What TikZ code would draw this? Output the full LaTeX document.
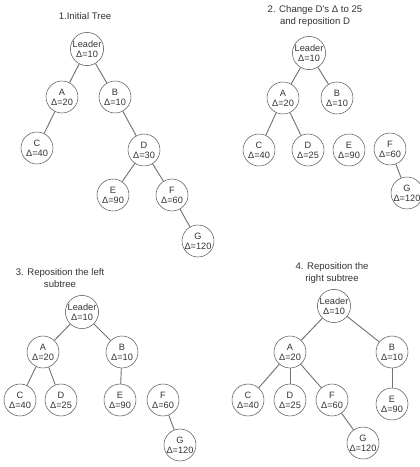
\documentclass[tikz,border=0pt]{standalone}
\usepackage{fontspec}
\setmainfont{Liberation Sans}
\usetikzlibrary{positioning}
\tikzset{
    treenode/.style={draw=black!65, circle, minimum size=24pt, inner sep=0pt, align=center,
        font=\fontsize{6.9}{7.6}\selectfont, text=black!80},
    caption/.style={align=center, font=\fontsize{7.2}{9}\selectfont, text=black!80},
    link/.style={draw=black!55, line width=0.7pt},
}

\begin{document}
\begin{tikzpicture}[x=0.75pt, y=-0.75pt]
    \useasboundingbox (0,0) rectangle (420,467);

    % 1. initial tree
    \node[caption] (t1) at (85,16) {1.Initial Tree};
    \node[treenode] (L1) at (87,49) {Leader\\Δ=10};
    \node[treenode] (A1) at (62,97) {A\\Δ=20};
    \node[treenode] (B1) at (115,97) {B\\Δ=10};
    \node[treenode] (C1) at (37,148) {C\\Δ=40};
    \node[treenode] (D1) at (144,150) {D\\Δ=30};
    \node[treenode] (E1) at (113,195) {E\\Δ=90};
    \node[treenode] (F1) at (172,195) {F\\Δ=60};
    \node[treenode] (G1) at (198,241) {G\\Δ=120};
    \draw[link] (L1) -- (A1);
    \draw[link] (L1) -- (B1);
    \draw[link] (A1) -- (C1);
    \draw[link] (B1) -- (D1);
    \draw[link] (D1) -- (E1);
    \draw[link] (D1) -- (F1);
    \draw[link] (F1) -- (G1);

    % 2. change D and reposition it
    \node[caption] (t2) at (315,16) {2. Change D's Δ to 25\\and reposition D};
    \node[treenode] (L2) at (309,53) {Leader\\Δ=10};
    \node[treenode] (A2) at (283,98) {A\\Δ=20};
    \node[treenode] (B2) at (337,98) {B\\Δ=10};
    \node[treenode] (C2) at (259,150) {C\\Δ=40};
    \node[treenode] (D2) at (308,150) {D\\Δ=25};
    \node[treenode] (E2) at (349,150) {E\\Δ=90};
    \node[treenode] (F2) at (390,149) {F\\Δ=60};
    \node[treenode] (G2) at (407,193) {G\\Δ=120};
    \draw[link] (L2) -- (A2);
    \draw[link] (L2) -- (B2);
    \draw[link] (A2) -- (C2);
    \draw[link] (A2) -- (D2);
    \draw[link] (F2) -- (G2);

    % 3. left subtree
    \node[caption] (t3) at (60,278) {3. Reposition the left\\subtree};
    \node[treenode] (L3) at (82,312) {Leader\\Δ=10};
    \node[treenode] (A3) at (43,352) {A\\Δ=20};
    \node[treenode] (B3) at (122,352) {B\\Δ=10};
    \node[treenode] (C3) at (20,400) {C\\Δ=40};
    \node[treenode] (D3) at (61,400) {D\\Δ=25};
    \node[treenode] (E3) at (120,400) {E\\Δ=90};
    \node[treenode] (F3) at (163,400) {F\\Δ=60};
    \node[treenode] (G3) at (180,445) {G\\Δ=120};
    \draw[link] (L3) -- (A3);
    \draw[link] (L3) -- (B3);
    \draw[link] (A3) -- (C3);
    \draw[link] (A3) -- (D3);
    \draw[link] (B3) -- (E3);
    \draw[link] (F3) -- (G3);

    % 4. right subtree
    \node[caption] (t4) at (332,273) {4. Reposition the\\right subtree};
    \node[treenode] (L4) at (334,306) {Leader\\Δ=10};
    \node[treenode] (A4) at (290,352) {A\\Δ=20};
    \node[treenode] (B4) at (392,352) {B\\Δ=10};
    \node[treenode] (C4) at (248,400) {C\\Δ=40};
    \node[treenode] (D4) at (290,400) {D\\Δ=25};
    \node[treenode] (F4) at (332,400) {F\\Δ=60};
    \node[treenode] (E4) at (392,404) {E\\Δ=90};
    \node[treenode] (G4) at (363,443) {G\\Δ=120};
    \draw[link] (L4) -- (A4);
    \draw[link] (L4) -- (B4);
    \draw[link] (A4) -- (C4);
    \draw[link] (A4) -- (D4);
    \draw[link] (A4) -- (F4);
    \draw[link] (B4) -- (E4);
    \draw[link] (F4) -- (G4);
\end{tikzpicture}
\end{document}
